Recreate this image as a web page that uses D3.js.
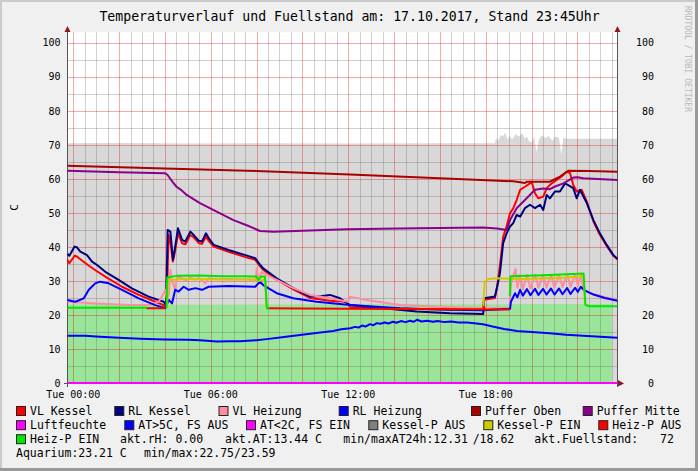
<!DOCTYPE html>
<html><head><meta charset="utf-8">
<script src="https://cdn.jsdelivr.net/npm/d3@7"></script>
<style>html,body{margin:0;padding:0;background:#f0f0f0;}svg{display:block;}</style>
</head><body><svg id="c" width="698" height="471"></svg>
<script>
// ---------- data (hours since Tue 00:00, value) ----------
const xTickHours = [0, 6, 12, 18];
const xTickLabels = ["Tue 00:00", "Tue 06:00", "Tue 12:00", "Tue 18:00"];
const yTicks = [0, 10, 20, 30, 40, 50, 60, 70, 80, 90, 100];

const fuellstand = [[-0.25,70.5],[2,70.6],[5,70.4],[8,70.5],[12,70.4],[16,70.5],[18.4,70.5],[18.45,72],[18.55,71.2],[18.65,73],[18.75,72.5],[18.85,73.6],[18.95,71.5],[19.05,72.8],[19.15,71.5],[19.3,73.2],[19.45,72.5],[19.6,73.4],[19.7,71.8],[19.8,72.5],[19.9,71],[20.0,70.8],[20.1,72.4],[20.22,68.0],[20.32,71.5],[20.45,72.8],[20.6,72],[20.75,72.6],[20.9,71.2],[21.05,72.5],[21.2,72],[21.3,67.1],[21.38,72],[21.5,71.8],[23.75,71.8]];
const aquarium = [[-0.25,23.1],[4,23.0],[8,23.1],[12,23.2],[16,23.1],[20,23.2],[23.5,23.2]];

const vlKessel = [[-0.25,36.2],[-0.17,35.2],[0.06,37.4],[0.16,37.2],[0.31,36.4],[0.64,34.7],[1.0,33.0],[1.4,31.3],[2.13,28.3],[2.86,25.9],[3.58,23.9],[3.95,22.9],[4.02,22.4],[4.1,28],[4.16,43.5],[4.25,41],[4.35,35.7],[4.45,39],[4.57,44],[4.75,41.1],[4.9,40.8],[5.11,43.5],[5.26,42.8],[5.48,41.1],[5.62,40.9],[5.79,43],[5.91,41.8],[6.13,40.1],[6.78,38.6],[7.51,37.0],[7.94,36.2],[8.16,34.3],[8.29,33.3],[8.88,30.4],[9.6,27.5],[10.33,25.0],[11.2,24.2],[11.9,23.9],[12.1,22.3],[13.5,21.9],[16.44,21.6],[17.89,21.5],[17.92,24.5],[18.4,25.0],[18.5,28.5],[18.62,34.5],[18.76,43],[18.91,46],[19.06,49.9],[19.2,51.4],[19.35,53.8],[19.5,56.8],[19.71,57.7],[19.93,58.7],[20.0,59.2],[20.15,55.8],[20.29,54.3],[20.51,54.8],[20.66,57.3],[20.88,58.7],[21.1,59.7],[21.31,60.7],[21.53,62.1],[21.68,61.7],[21.82,58.2],[21.97,56.3],[22.19,56.8],[22.41,53.3],[22.7,47.5],[22.98,43.6],[23.28,40.3],[23.57,37.4],[23.75,36.3]];
const rlKessel = [[-0.25,37.9],[-0.17,37.4],[0.06,40.1],[0.16,39.9],[0.31,38.6],[0.6,37.6],[0.82,35.7],[1.04,34.7],[1.4,32.7],[1.98,30.3],[2.56,27.8],[3.29,25.4],[3.95,23.9],[4.05,22.9],[4.12,45],[4.24,44.5],[4.35,36.2],[4.45,40.1],[4.57,45.5],[4.75,42.1],[4.89,41.6],[5.11,44.5],[5.26,43.5],[5.48,41.8],[5.62,41.6],[5.79,44],[5.91,42.6],[6.13,40.6],[6.78,39.1],[7.51,37.6],[7.94,36.7],[8.16,34.7],[8.29,33.7],[8.88,30.8],[9.6,27.9],[10.33,25.4],[10.8,25.5],[11.2,25.9],[11.64,24.9],[12.08,22.9],[13.53,22.0],[14.99,21.0],[16.44,20.5],[17.89,20.3],[17.93,24.9],[18.4,25.4],[18.5,28.3],[18.62,32.3],[18.76,41.1],[18.91,44],[19.06,46],[19.2,47],[19.35,49.4],[19.5,48.9],[19.71,51.4],[19.93,52.4],[20.15,51.4],[20.37,52.4],[20.51,50.9],[20.66,55.3],[20.8,54.3],[21.02,56.3],[21.24,56.3],[21.46,58.7],[21.6,58.2],[21.82,57.3],[21.97,54.3],[22.11,56.8],[22.41,52.9],[22.7,47.9],[22.98,44],[23.28,40.6],[23.57,37.6],[23.75,36.5]];
const vlHeizung = [[-0.25,23.9],[0.96,23.4],[2.42,22.9],[3.29,22.9],[3.73,23.9],[3.95,26.4],[4.02,27.4],[4.09,24.4],[4.17,26],[4.24,33.2],[4.3,30.3],[4.45,27.4],[4.53,31.3],[4.7,31.0],[4.9,30.2],[5.1,31.0],[5.3,30.4],[5.5,30.8],[5.76,29.3],[5.9,30.8],[6.3,30.5],[6.8,30.6],[7.3,30.5],[7.8,30.4],[7.95,30.0],[8.01,33.7],[8.08,30.3],[8.22,32.7],[8.44,31.8],[8.88,30.3],[9.6,27.9],[10.33,25.9],[11.2,24.9],[12.0,23.9],[12.08,25.4],[12.8,24.4],[14.26,22.9],[16.44,22.3],[17.89,22.0],[19.05,22.0],[19.1,29],[19.2,31.5],[19.3,33.5],[19.38,28],[19.5,31.8],[19.62,27.5],[19.8,31.8],[19.95,27.8],[20.15,31.8],[20.3,28],[20.5,31.8],[20.65,28],[20.85,31.8],[21.0,28],[21.2,31.8],[21.35,28.2],[21.55,32],[21.7,28.2],[21.9,32],[22.02,28.5],[22.15,32],[22.27,27.4],[22.7,26.2],[23.2,25.2],[23.75,24.5]];
const rlHeizung = [[-0.25,24.4],[0.09,23.9],[0.46,24.9],[0.68,27.4],[0.96,29.3],[1.18,29.8],[1.55,29.3],[2.13,27.4],[2.86,24.9],[3.58,22.9],[4.02,22.0],[4.17,24.4],[4.31,23.4],[4.45,27.4],[4.6,26.9],[4.82,28.3],[5.04,27.4],[5.33,27.9],[5.62,27.4],[5.91,28.3],[6.78,28.5],[7.94,28.3],[8.15,29.8],[8.29,28.8],[8.88,26.4],[9.6,24.9],[10.62,23.9],[12.08,22.9],[14.26,22.0],[16.44,21.5],[17.89,21.4],[19.06,21.8],[19.1,23.9],[19.28,26.4],[19.38,25.2],[19.5,27.4],[19.62,25.7],[19.8,27.6],[19.95,25.8],[20.15,27.7],[20.3,25.9],[20.5,27.7],[20.65,26],[20.85,27.8],[21.0,26],[21.2,27.8],[21.35,26.1],[21.55,27.9],[21.7,26.2],[21.9,28],[22.02,26.8],[22.15,28.3],[22.27,27.4],[22.7,26.0],[23.2,25.0],[23.75,24.2]];
const pufferOben = [[-0.25,63.9],[4,63.1],[8,62.35],[12.08,61.3],[16,60.2],[19.2,59.3],[19.5,59.0],[19.71,58.8],[19.8,59.2],[20.8,59.2],[21.24,60.7],[21.6,62.4],[22.5,62.3],[23.75,62.1]];
const pufferMitte = [[-0.25,62.4],[2,62.0],[4.0,61.7],[4.1,61.3],[4.22,60.2],[4.35,59],[4.51,57.7],[4.7,56.8],[4.95,55.3],[5.53,52.9],[6.26,50.4],[6.99,47.9],[7.71,46.0],[8.15,44.7],[8.73,44.5],[11.93,45.2],[15,45.5],[17.89,45.7],[18.5,45.4],[18.91,45],[19.06,47.9],[19.35,51.4],[19.71,53.8],[20.15,56.8],[20.51,57.2],[20.8,57.0],[21.0,57.7],[21.39,58.7],[21.82,60.4],[22.0,60.5],[22.26,60.2],[23.75,59.7]];
const luftfeuchte = [[-0.25,0],[23.75,0]];
const aussenTemp = [[-0.25,13.9],[0.5,13.9],[1.17,13.6],[2.0,13.3],[2.91,13.0],[4.0,12.8],[5.0,12.7],[5.53,12.6],[6.26,12.2],[6.8,12.3],[7.28,12.3],[8.0,12.6],[8.44,12.9],[9.2,13.5],[9.9,14.1],[10.6,14.7],[11.34,15.3],[11.7,15.8],[12.09,16.1],[12.3,16.5],[12.45,16.3],[12.6,16.9],[12.75,16.6],[12.95,17.3],[13.1,17.0],[13.25,17.6],[13.4,17.4],[13.6,17.8],[13.75,17.5],[13.95,18.0],[14.1,17.7],[14.3,18.2],[14.5,17.9],[14.7,18.3],[14.85,18.0],[15.0,18.6],[15.2,18.1],[15.44,18.3],[15.7,18.0],[15.9,18.2],[16.2,17.9],[16.5,18.1],[16.8,17.8],[17.18,17.8],[17.5,17.6],[17.88,17.3],[18.3,16.6],[18.8,15.9],[19.36,15.3],[20.0,15.0],[20.8,14.6],[21.5,14.2],[22.25,13.9],[23.0,13.6],[23.75,13.3]];
const kesselPEin = [[4.1,22.0],[4.14,30.3],[5,30.6],[6,30.5],[7,30.4],[8.0,30.4],[8.1,30.0],[8.3,30.4],[8.38,30.3],[8.42,22.3],[8.45,null],[17.9,22.0],[17.95,29.6],[18.1,30.6],[18.5,30.8],[19.5,30.5],[20.5,30.8],[21.5,31.0],[22.2,31.3],[22.27,31.3],[22.33,23.0],[22.4,null]];
const heizPAus = [[3.2,22.0],[3.95,22.0],[4.0,22.6],[4.02,null],[8.45,22.0],[10,21.9],[12,21.8],[17.89,21.7],[17.92,22.4],[17.97,21.6],[19.06,21.6],[19.08,null]];
const heizPEin = [[-0.25,22.1],[3.22,22.1],[3.25,null],[4.07,22.1],[4.1,31.0],[4.5,31.5],[5.5,31.6],[6.5,31.4],[7.5,31.4],[8.0,31.3],[8.08,30.3],[8.2,31.3],[8.37,31.3],[8.45,22.0],[8.55,22.0],[8.6,null],[19.05,25.5],[19.08,31.4],[20.5,31.7],[21.5,32.0],[22.27,32.2],[22.35,23.0],[22.5,22.6],[23.75,22.6]];

const legendRows = [
  [["VL Kessel","#ff0000"],["RL Kessel","#000080"],["VL Heizung","#ff8ca0"],["RL Heizung","#0000ff"],["Puffer Oben","#aa0000"],["Puffer Mitte","#8b008b"]],
  [["Luftfeuchte","#ff00ff"],["AT>5C, FS AUS","#0000ff"],["AT<2C, FS EIN","#ff00ff"],["Kessel-P AUS","#808080"],["Kessel-P EIN","#cccc00"],["Heiz-P AUS","#ff0000"]],
  [["Heiz-P EIN","#00e600"]]
];
const infoTexts = [["akt.rH: 0.00",120,2],["akt.AT:13.44 C",225,2],["min/maxAT24h:12.31",343.3,2],["/18.62",472.7,2],["akt.Fuellstand:",534.3,2],["72",660,2],["Aquarium:23.21 C",16,3],["min/max:22.75/23.59",144,3]];

// ---------- drawing ----------
const W = 698, H = 471;
const FONT = "'DejaVu Sans Mono', monospace";
const svg = d3.select("#c");
const x = d3.scaleLinear().domain([-0.25, 23.75]).range([67.5, 617.5]);
const y = d3.scaleLinear().domain([0, 103.2]).range([383, 32]);
const X0 = x.range()[0], X1 = x.range()[1], Y0 = y.range()[0], Y1 = y.range()[1];

svg.append("rect").attr("width", W).attr("height", H).attr("fill", "#f0f0f0");
svg.append("rect").attr("x",0).attr("y",0).attr("width",W).attr("height",2).attr("fill","#cbcbcb");
svg.append("rect").attr("x",0).attr("y",0).attr("width",2).attr("height",H).attr("fill","#cbcbcb");
svg.append("rect").attr("x",0).attr("y",H-3).attr("width",W).attr("height",3).attr("fill","#999999");
svg.append("rect").attr("x",W-3).attr("y",0).attr("width",3).attr("height",H).attr("fill","#999999");

// canvas
svg.append("rect").attr("x", X0).attr("y", Y1).attr("width", X1 - X0).attr("height", Y0 - Y1).attr("fill", "#ffffff");

// areas
const area = d3.area().x(d => x(d[0])).y0(y(0)).y1(d => y(d[1]));
svg.append("path").attr("d", area(fuellstand)).attr("fill", "#d8d8d8");
svg.append("path").attr("d", area(aquarium)).attr("fill", "#9ae59a");

// grid
const g = svg.append("g").attr("shape-rendering", "crispEdges");
const minorX = d3.range(0, 23.75, 0.5).filter(h => h % 2 !== 0);
const majorX = d3.range(0, 23.75, 2);
const minorY = d3.range(5, 103, 10);
const majorY = d3.range(10, 101, 10);
const px = v => Math.round(v) + 0.5;
const minorC = "rgba(100,100,100,0.3)", majorC = "rgba(225,0,0,0.33)";
minorX.forEach(h => g.append("line").attr("x1", px(x(h))).attr("x2", px(x(h))).attr("y1", Y1).attr("y2", Y0).attr("stroke", minorC));
minorY.forEach(v => g.append("line").attr("x1", X0).attr("x2", X1).attr("y1", px(y(v))).attr("y2", px(y(v))).attr("stroke", minorC));
majorX.forEach(h => g.append("line").attr("x1", px(x(h))).attr("x2", px(x(h))).attr("y1", Y1).attr("y2", Y0).attr("stroke", majorC));
majorY.forEach(v => g.append("line").attr("x1", X0).attr("x2", X1).attr("y1", px(y(v))).attr("y2", px(y(v))).attr("stroke", majorC));

// axes lines
svg.append("line").attr("x1", X0).attr("x2", X0).attr("y1", 28).attr("y2", 387).attr("stroke", "#555");
svg.append("line").attr("x1", X1).attr("x2", X1).attr("y1", 28).attr("y2", 387).attr("stroke", "#555");
svg.append("line").attr("x1", 64).attr("x2", 620).attr("y1", Y0 + 0.5).attr("y2", Y0 + 0.5).attr("stroke", "#555");
// arrows
const arrowC = "#8b1a1a";
svg.append("path").attr("d", `M${X0-3},32 L${X0+3},32 L${X0},26 Z`).attr("fill", arrowC);
svg.append("path").attr("d", `M${X1-3},32 L${X1+3},32 L${X1},26 Z`).attr("fill", arrowC);
svg.append("path").attr("d", `M618,${Y0-3} L618,${Y0+3.5} L624,${Y0+0.5} Z`).attr("fill", arrowC);

// lines
const line = d3.line().defined(d => d[1] != null).x(d => x(d[0])).y(d => y(d[1]));
const series = [
  [vlKessel, "#ff0000"], [rlKessel, "#000080"], [vlHeizung, "#ff8ca0"], [rlHeizung, "#0000ff"],
  [pufferOben, "#aa0000"], [pufferMitte, "#8b008b"], [luftfeuchte, "#ff00ff"], [aussenTemp, "#0000ff"],
  [kesselPEin, "#cccc00"], [heizPAus, "#ff0000"], [heizPEin, "#00e600"]
];
series.forEach(([d, c]) => svg.append("path").attr("d", line(d)).attr("fill", "none")
  .attr("stroke", c).attr("stroke-width", 2).attr("stroke-linejoin", "round"));

// y tick labels
yTicks.forEach(v => {
  svg.append("text").attr("x", 60.5).attr("y", y(v)).attr("dy", "0.36em").attr("text-anchor", "end")
    .attr("font-family", FONT).attr("font-size", 10).attr("fill", "#000").text(v);
  svg.append("text").attr("x", 654).attr("y", y(v)).attr("dy", "0.36em").attr("text-anchor", "end")
    .attr("font-family", FONT).attr("font-size", 10).attr("fill", "#000").text(v);
});
// x tick labels
xTickHours.forEach((h, i) => {
  svg.append("text").attr("x", x(h)).attr("y", 398).attr("text-anchor", "middle")
    .attr("font-family", FONT).attr("font-size", 10).attr("fill", "#000").text(xTickLabels[i]);
});

// title
svg.append("text").attr("x", 349.5).attr("y", 21).attr("text-anchor", "middle")
  .attr("font-family", FONT).attr("font-size", 13.2).attr("fill", "#000")
  .text("Temperaturverlauf und Fuellstand am: 17.10.2017, Stand 23:45Uhr");
// unit label
svg.append("text").attr("transform", `translate(17.5,${(Y0 + Y1) / 2}) rotate(-90)`).attr("text-anchor", "middle")
  .attr("font-family", FONT).attr("font-size", 11).attr("fill", "#000").text("C");
// watermark
svg.append("text").attr("transform", "translate(685,6) rotate(90)").attr("text-anchor", "start")
  .attr("font-family", FONT).attr("font-size", 8).attr("fill", "#b8b8b8").text("RRDTOOL / TOBI OETIKER");

// legend
const rowY = [411, 425.2, 439.2, 453.3];
const textX = [[30, 128.3, 232.5, 352.7, 485, 596.7], [30, 138.3, 260, 382.3, 497.3, 612.3], [30]];
legendRows.forEach((row, r) => {
  row.forEach(([name, col], i) => {
    const tx = textX[r][i];
    svg.append("rect").attr("x", tx - 13.5).attr("y", rowY[r] - 4.5).attr("width", 9).attr("height", 9)
      .attr("fill", col).attr("stroke", "#222").attr("stroke-width", 1);
    svg.append("text").attr("x", tx).attr("y", rowY[r]).attr("dy", "0.36em")
      .attr("font-family", FONT).attr("font-size", 11.5).attr("fill", "#000").text(name);
  });
});
infoTexts.forEach(([t, tx, r]) => {
  svg.append("text").attr("x", tx).attr("y", rowY[r]).attr("dy", "0.36em")
    .attr("font-family", FONT).attr("font-size", 11.5).attr("fill", "#000").text(t);
});
</script></body></html>
